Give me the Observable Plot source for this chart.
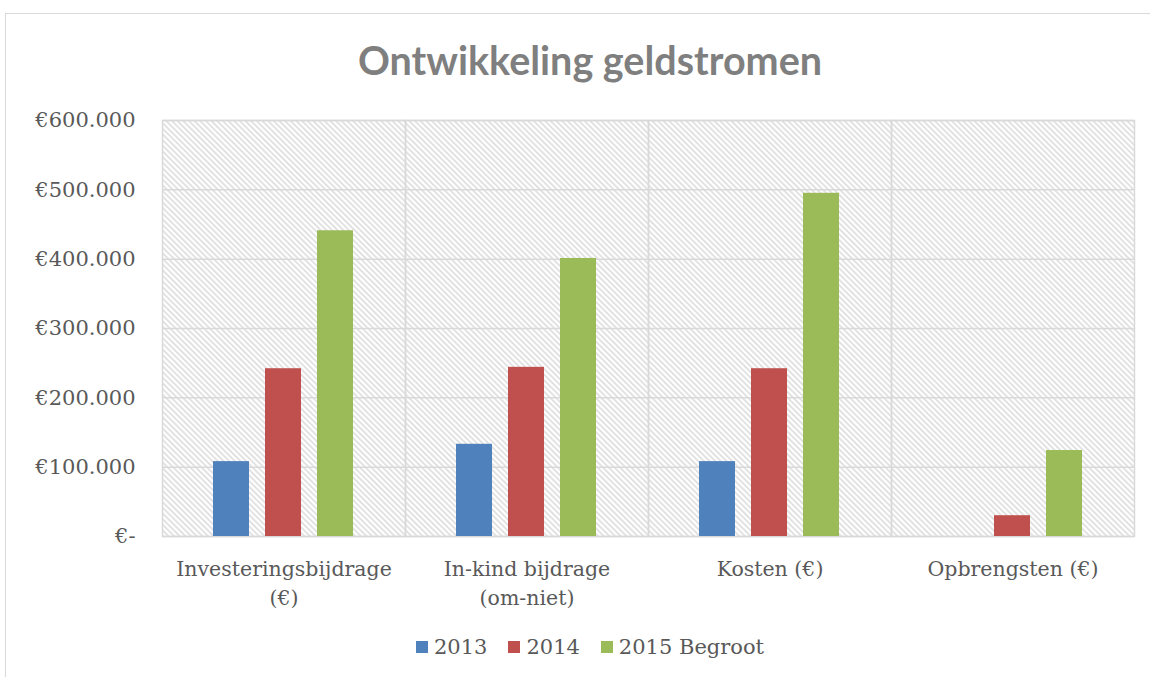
<!DOCTYPE html>
<html><head><meta charset="utf-8">
<script src="https://cdn.jsdelivr.net/npm/d3@7"></script>
<script src="https://cdn.jsdelivr.net/npm/@observablehq/plot@0.6"></script>
<style>
html,body{margin:0;padding:0;background:#fff;}
#root{position:relative;width:1150px;height:677px;overflow:hidden;background:#fff;}
#border{position:absolute;left:5px;top:13px;width:1200px;height:700px;border:1px solid #d9d9d9;box-sizing:border-box;}
#title{position:absolute;left:5px;width:1170px;top:40px;text-align:center;font-family:Lato,sans-serif;font-weight:bold;font-size:39.5px;line-height:39.5px;color:#7f7f7f;white-space:nowrap;}
#chart{position:absolute;left:0;top:105px;}
#legend{position:absolute;left:5px;width:1170px;top:633px;display:flex;justify-content:center;gap:21px;font-family:"DejaVu Serif",serif;font-size:21px;line-height:28px;color:#595959;}
.item{display:flex;align-items:center;gap:6px;}
.sw{width:12px;height:12px;display:inline-block;}
</style></head>
<body><div id="root"><div id="border"></div><div id="title"></div><div id="chart"></div><div id="legend"></div></div>
<script>
const titleText = "Ontwikkeling geldstromen";
const categories = ["Investeringsbijdrage (€)", "In-kind bijdrage (om-niet)", "Kosten (€)", "Opbrengsten (€)"];
const categoryLabels = ["Investeringsbijdrage\n(€)", "In-kind bijdrage\n(om-niet)", "Kosten (€)", "Opbrengsten (€)"];
const series = ["2013", "2014", "2015 Begroot"];
const values2013 = [108000, 133000, 108000, 0];
const values2014 = [242000, 244000, 242000, 30000];
const values2015 = [441000, 401000, 495000, 124000];
const colors = ["#4F81BD", "#C0504D", "#9BBB59"];
const yTicks = [0, 100000, 200000, 300000, 400000, 500000, 600000];

const seriesValues = [values2013, values2014, values2015];
const data = [];
categories.forEach((c, i) => series.forEach((s, j) => data.push({category: c, series: s, value: seriesValues[j][i]})));

const fmtY = d => d === 0 ? "€-" : "€" + d3.format(",")(d).replace(/,/g, ".");
const labelOf = c => categoryLabels[categories.indexOf(c)];

const gridColor = "#d9d9d9";

const plot = Plot.plot({
  width: 1150,
  height: 520,
  marginTop: 15,
  marginLeft: 160,
  marginRight: 15,
  marginBottom: 89,
  style: {fontFamily: "'DejaVu Serif', serif", fontSize: "21px", color: "#595959", background: "transparent"},
  fx: {domain: categories, padding: 0, label: null},
  x: {domain: series, paddingInner: 0.3, paddingOuter: 0.95, axis: null},
  y: {domain: [0, 600000], label: null},
  color: {domain: series, range: colors},
  marks: [
    Plot.frame({fill: "url(#hatch)", stroke: null}),
    Plot.gridY(yTicks, {stroke: gridColor, strokeOpacity: 1, strokeWidth: 1.5}),
    Plot.frame({stroke: gridColor, strokeWidth: 1.5}),
    Plot.barY(data, {fx: "category", x: "series", y: "value", fill: "series"}),
    Plot.axisY(yTicks, {tickSize: 0, tickPadding: 27, tickFormat: fmtY, label: null, fontSize: 21}),
    Plot.axisFx({anchor: "bottom", tickSize: 0, tickPadding: 18, tickFormat: labelOf, lineHeight: 1.45, fontSize: 20.5, label: null})
  ]
});

const svg = d3.select(plot);
const defs = svg.insert("defs", ":first-child");
const pat = defs.append("pattern")
  .attr("id", "hatch")
  .attr("patternUnits", "userSpaceOnUse")
  .attr("width", 4)
  .attr("height", 4)
  .attr("patternTransform", "rotate(-45)");
pat.append("rect").attr("width", 4).attr("height", 4).attr("fill", "#ffffff");
pat.append("rect").attr("x", 0).attr("y", 0).attr("width", 1.6).attr("height", 4).attr("fill", "#dcdcdc");

document.getElementById("chart").appendChild(plot);
document.getElementById("title").textContent = titleText;

const legend = document.getElementById("legend");
series.forEach((s, i) => {
  const item = document.createElement("div");
  item.className = "item";
  const sw = document.createElement("span");
  sw.className = "sw";
  sw.style.background = colors[i];
  const t = document.createElement("span");
  t.textContent = s;
  item.appendChild(sw);
  item.appendChild(t);
  legend.appendChild(item);
});
</script>
</body></html>
